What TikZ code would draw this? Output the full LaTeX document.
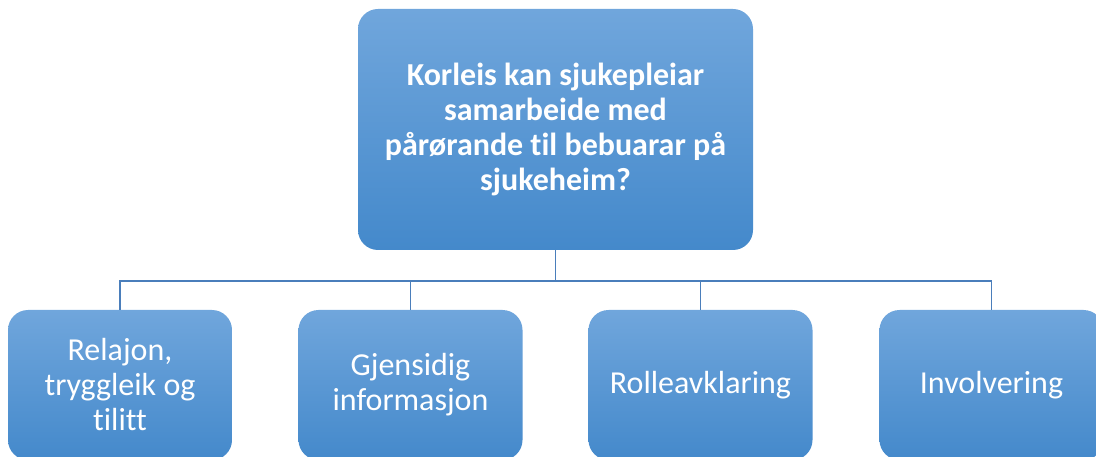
\documentclass[tikz,border=0pt]{standalone}
\usepackage{fontspec}
\setmainfont[Ligatures=NoCommon]{Carlito}
\usepackage{tikz}

\definecolor{boxtop}{RGB}{112,166,220}
\definecolor{boxbot}{RGB}{68,137,203}
\definecolor{linkblue}{RGB}{74,126,187}

\begin{document}
\begin{tikzpicture}[x=1pt,y=-1pt,
            box/.style={rounded corners=20pt,top color=boxtop,bottom color=boxbot,
                draw=none,text=white,align=center,inner sep=0pt},
            main box/.style={box,minimum width=395pt,minimum height=241pt,
                font=\fontsize{32}{35}\selectfont\bfseries},
            sub box/.style={box,minimum width=224pt,minimum height=150pt,
                font=\fontsize{32}{35}\selectfont},
            link/.style={draw=linkblue,line width=1.6pt}]

        \useasboundingbox (0,0) rectangle (1096,457);

        \node[main box] (Q) at (555.5,129.5) {Korleis kan sjukepleiar\\samarbeide med\\pårørande til bebuarar på\\sjukeheim?};

        \node[sub box] (R) at (120,385) {Relajon,\\tryggleik og\\tilitt};
        \node[sub box] (G) at (410.5,385) {Gjensidig\\informasjon};
        \node[sub box] (A) at (700.5,385) {Rolleavklaring};
        \node[sub box] (I) at (991.5,385) {Involvering};

        \coordinate (bus) at (555.5,281);
        \draw[link] (Q.south) -- (bus);
        \foreach \b in {R,G,A,I}
            \draw[link] (bus) -| (\b.north);

    \end{tikzpicture}
\end{document}
